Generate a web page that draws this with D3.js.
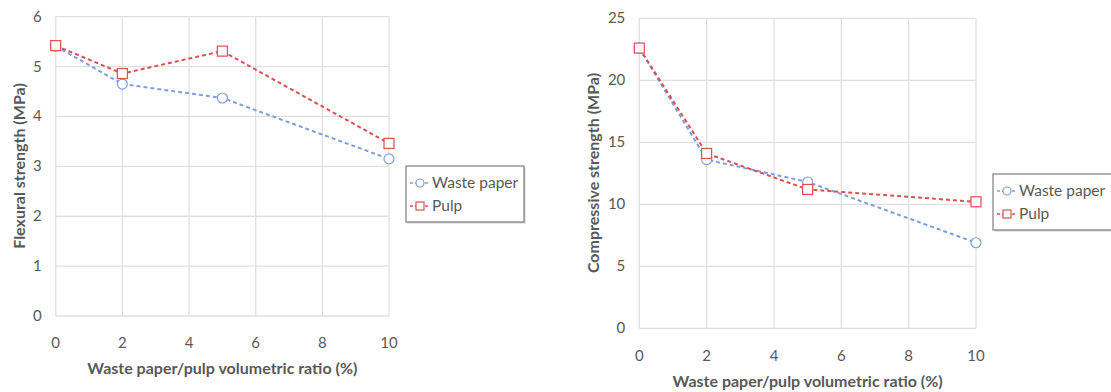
<!DOCTYPE html>
<html>
<head>
<meta charset="utf-8">
<script src="https://cdn.jsdelivr.net/npm/d3@7"></script>
<style>
  body { margin: 0; background: #fff; }
  svg text { font-family: Lato, "Open Sans", sans-serif; fill: #595959; }
</style>
</head>
<body>
<svg id="chart" width="1111" height="392"></svg>
<script>
// data
var ratios = [0, 2, 5, 10];
var xTicks = [0, 2, 4, 6, 8, 10];
var seriesNames = ["Waste paper", "Pulp"];

var flexWaste = [5.41, 4.65, 4.37, 3.15];
var flexPulp  = [5.42, 4.86, 5.31, 3.46];
var flexTicks = [0, 1, 2, 3, 4, 5, 6];

var compWaste = [22.6, 13.6, 11.8, 6.9];
var compPulp  = [22.6, 14.1, 11.2, 10.2];
var compTicks = [0, 5, 10, 15, 20, 25];

var colors = { "Waste paper": "#7d9ee0", "Pulp": "#de4f50" };

var svg = d3.select("#chart");

function drawPanel(opt) {
  var x = d3.scaleLinear().domain([0, 10]).range([opt.left, opt.right]);
  var y = d3.scaleLinear().domain([0, opt.ymax]).range([opt.bottom, opt.top]);
  var g = svg.append("g");

  // grid
  g.selectAll(".hg").data(opt.yTicks).enter().append("line")
    .attr("x1", x(0)).attr("x2", x(10))
    .attr("y1", d => y(d)).attr("y2", d => y(d))
    .attr("stroke", "#e0e0e0").attr("stroke-width", 1.3);
  g.selectAll(".vg").data(xTicks).enter().append("line")
    .attr("x1", d => x(d)).attr("x2", d => x(d))
    .attr("y1", y(0)).attr("y2", y(opt.ymax))
    .attr("stroke", "#e0e0e0").attr("stroke-width", 1.3);

  // tick labels
  g.selectAll(".yt").data(opt.yTicks).enter().append("text")
    .attr("x", opt.left - 14).attr("y", d => y(d) + 5)
    .attr("text-anchor", "end").style("font-size", "15px")
    .text(d => d);
  g.selectAll(".xt").data(xTicks).enter().append("text")
    .attr("x", d => x(d)).attr("y", opt.xLabelY)
    .attr("text-anchor", "middle").style("font-size", "15px")
    .text(d => d);

  // axis titles
  g.append("text")
    .attr("x", (opt.left + opt.right) / 2).attr("y", opt.xTitleY)
    .attr("text-anchor", "middle").style("font-size", "16px").style("font-weight", "bold")
    .text("Waste paper/pulp volumetric ratio (%)");
  g.append("text")
    .attr("transform", "translate(" + opt.yTitleX + "," + opt.yTitleMid + ") rotate(-90)")
    .attr("text-anchor", "middle").style("font-size", "16px").style("font-weight", "bold")
    .text(opt.yTitle);

  var line = d3.line().x((d, i) => x(ratios[i])).y(d => y(d));

  [[opt.waste, "Waste paper"], [opt.pulp, "Pulp"]].forEach(function (s) {
    var vals = s[0], name = s[1], c = colors[name];
    g.append("path").datum(vals)
      .attr("d", line).attr("fill", "none")
      .attr("stroke", c).attr("stroke-width", 2).attr("stroke-dasharray", "4,3");
    if (name == "Waste paper") {
      g.selectAll(".mw").data(vals).enter().append("circle")
        .attr("cx", (d, i) => x(ratios[i])).attr("cy", d => y(d)).attr("r", 5)
        .attr("fill", "#fff").attr("stroke", c).attr("stroke-width", 1.2);
    } else {
      g.selectAll(".mp").data(vals).enter().append("rect")
        .attr("x", (d, i) => x(ratios[i]) - 5).attr("y", d => y(d) - 5)
        .attr("width", 10).attr("height", 10)
        .attr("fill", "#fff").attr("stroke", c).attr("stroke-width", 1.2);
    }
  });

  // legend
  var lg = g.append("g").attr("transform", "translate(" + opt.legX + "," + opt.legY + ")");
  lg.append("rect").attr("x", 1.5).attr("y", 1.5).attr("width", opt.legW).attr("height", 56)
    .attr("fill", "#cfcfcf");
  lg.append("rect").attr("x", 0).attr("y", 0).attr("width", opt.legW).attr("height", 56)
    .attr("fill", "#fff").attr("stroke", "#7f7f7f").attr("stroke-width", 1.2);
  seriesNames.forEach(function (name, i) {
    var cy = 17 + i * 23, c = colors[name];
    lg.append("line").attr("x1", 4).attr("x2", 24).attr("y1", cy).attr("y2", cy)
      .attr("stroke", c).attr("stroke-width", 1.5).attr("stroke-dasharray", "3,2");
    if (i == 0) {
      lg.append("circle").attr("cx", 14).attr("cy", cy).attr("r", 4)
        .attr("fill", "#fff").attr("stroke", c).attr("stroke-width", 1.2);
    } else {
      lg.append("rect").attr("x", 10).attr("y", cy - 4).attr("width", 8).attr("height", 8)
        .attr("fill", "#fff").attr("stroke", c).attr("stroke-width", 1.2);
    }
    lg.append("text").attr("x", 26).attr("y", cy + 5).style("font-size", "15.5px").text(name);
  });
}

drawPanel({
  left: 55.7, right: 389, top: 16.7, bottom: 316, ymax: 6,
  yTicks: flexTicks, waste: flexWaste, pulp: flexPulp,
  xLabelY: 348, xTitleY: 374, yTitleX: 25, yTitleMid: 166,
  yTitle: "Flexural strength (MPa)",
  legX: 406, legY: 166, legW: 118
});

drawPanel({
  left: 639.3, right: 976, top: 18.3, bottom: 328.3, ymax: 25,
  yTicks: compTicks, waste: compWaste, pulp: compPulp,
  xLabelY: 361, xTitleY: 387, yTitleX: 599, yTitleMid: 173,
  yTitle: "Compressive strength (MPa)",
  legX: 993, legY: 174, legW: 130
});
</script>
</body>
</html>
